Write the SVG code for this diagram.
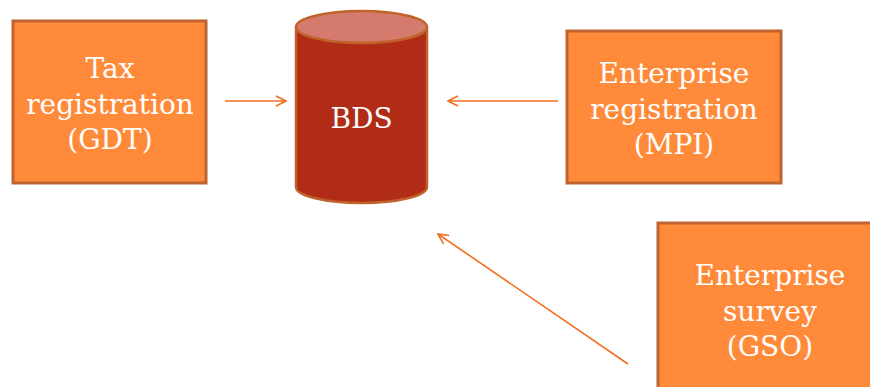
<svg xmlns="http://www.w3.org/2000/svg" width="870" height="387" viewBox="0 0 870 387">
<style>
.box{fill:#FF8A3A;stroke:#BF6430;stroke-width:3}
.t{font-family:"DejaVu Serif","Liberation Serif",serif;font-size:28px;fill:#FFFFFF;text-anchor:middle}
.c{stroke:#F46E1E;stroke-width:1.6;fill:none;marker-end:url(#ah)}
</style>
<defs>
<marker id="ah" viewBox="0 0 12 12" refX="11" refY="6" markerWidth="12" markerHeight="12" markerUnits="userSpaceOnUse" orient="auto">
<path d="M1,1 L11,6 L1,11" fill="none" stroke="#F46E1E" stroke-width="1.6"/>
</marker>
</defs>
<rect width="870" height="387" fill="#FFFFFF"/>
<g id="tax">
<rect class="box" x="13" y="21" width="193" height="162"/>
<text class="t" x="110" y="78">Tax</text>
<text class="t" x="110" y="114">registration</text>
<text class="t" x="110" y="149">(GDT)</text>
</g>
<g id="bds">
<path d="M296,27 L296,187 A65.5,16 0 0 0 427,187 L427,27" fill="#B02C16" stroke="#C0622A" stroke-width="2.5"/>
<ellipse cx="361.5" cy="27" rx="65.5" ry="16" fill="#D47B6E" stroke="#C0622A" stroke-width="2.5"/>
<text class="t" x="361.5" y="128">BDS</text>
</g>
<g id="mpi">
<rect class="box" x="567" y="31" width="214" height="152"/>
<text class="t" x="674" y="83">Enterprise</text>
<text class="t" x="674" y="119">registration</text>
<text class="t" x="674" y="154">(MPI)</text>
</g>
<g id="gso">
<rect class="box" x="658" y="223" width="226" height="170"/>
<text class="t" x="770" y="285">Enterprise</text>
<text class="t" x="770" y="321">survey</text>
<text class="t" x="770" y="356">(GSO)</text>
</g>
<g id="connectors">
<path class="c" d="M225,101 L286,101"/>
<path class="c" d="M558,101 L448,101"/>
<path class="c" d="M628,364 L438,234"/>
</g>
</svg>
